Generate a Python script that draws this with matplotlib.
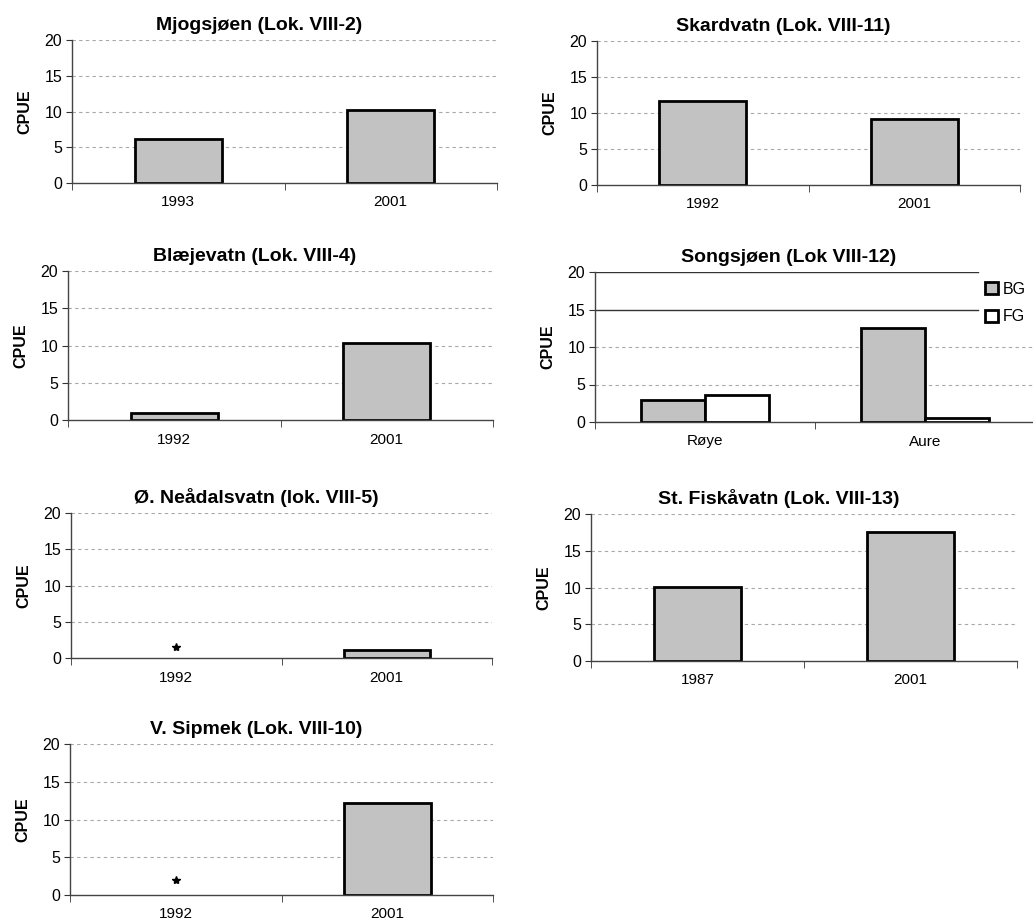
import matplotlib.pyplot as plt
import numpy as np

plt.rcParams['font.family'] = ['Liberation Sans', 'DejaVu Sans']

# data per panel
titles = ['Mjogsjøen (Lok. VIII-2)', 'Skardvatn (Lok. VIII-11)',
          'Blæjevatn (Lok. VIII-4)', 'Songsjøen (Lok VIII-12)',
          'Ø. Neådalsvatn (lok. VIII-5)', 'St. Fiskåvatn (Lok. VIII-13)',
          'V. Sipmek (Lok. VIII-10)']
mjog_years = ['1993', '2001']
mjog_cpue = [6.2, 10.2]
skard_years = ['1992', '2001']
skard_cpue = [11.6, 9.2]
blae_years = ['1992', '2001']
blae_cpue = [1.0, 10.3]
songs_species = ['Røye', 'Aure']
songs_bg = [3.0, 12.6]
songs_fg = [3.6, 0.5]
nea_years = ['1992', '2001']
nea_cpue = [0.0, 1.1]
nea_star = 1.5
fisk_years = ['1987', '2001']
fisk_cpue = [10.1, 17.5]
sip_years = ['1992', '2001']
sip_cpue = [0.0, 12.2]
sip_star = 2.0

W, H = 1033, 924
fig = plt.figure(figsize=(W / 100, H / 100), dpi=100)

def box(l, r, t, b):
    return [l / W, 1 - b / H, (r - l) / W, (b - t) / H]

pos = [box(72, 497, 40, 183), box(597, 1020, 41, 185),
       box(68, 493, 271, 420), box(595, 1035, 272, 422),
       box(71, 492, 513, 658), box(591, 1017, 514, 661),
       box(70, 493, 744, 895)]

bar_col = '#c2c2c2'

def style(ax, title, labels, solid_top=False):
    ax.set_ylim(0, 20)
    ax.set_xlim(-0.5, len(labels) - 0.5)
    ax.set_yticks([0, 5, 10, 15, 20])
    ax.set_xticks(range(len(labels)))
    ax.set_xticklabels(labels)
    ax.set_xticks(np.arange(-0.5, len(labels), 1.0), minor=True)
    ax.tick_params(axis='x', which='major', length=0, pad=9, labelsize=11)
    ax.tick_params(axis='x', which='minor', length=5, direction='out', color='#333')
    ax.tick_params(axis='y', length=4, direction='out', pad=3, labelsize=11.5, color='#333')
    for s in ['top', 'right']:
        ax.spines[s].set_visible(False)
    for s in ['left', 'bottom']:
        ax.spines[s].set_color('#444')
        ax.spines[s].set_linewidth(1.0)
    for yv in [5, 10, 15, 20]:
        if solid_top and yv >= 15:
            ax.axhline(yv, xmax=0.87, color='#333', lw=1.0, zorder=0)
        else:
            ax.axhline(yv, color='#a8a8a8', lw=0.8, ls=(0, (3, 3)), zorder=0)
    ax.set_ylabel('CPUE', fontsize=11.5, fontweight='bold', labelpad=9)
    ax.set_title(title, fontsize=14, fontweight='bold', x=0.44, pad=7)

bw = 0.41
panels = [(mjog_years, mjog_cpue, None), (skard_years, skard_cpue, None),
          (blae_years, blae_cpue, None), None,
          (nea_years, nea_cpue, nea_star), (fisk_years, fisk_cpue, None),
          (sip_years, sip_cpue, sip_star)]

for i, p in enumerate(panels):
    ax = fig.add_axes(pos[i])
    if p is None:
        x = np.arange(len(songs_species))
        w = 0.29
        ax.bar(x - w / 2, songs_bg, w, color=bar_col, edgecolor='black', lw=2, label='BG', zorder=2)
        ax.bar(x + w / 2, songs_fg, w, color='white', edgecolor='black', lw=2, label='FG', zorder=2)
        style(ax, titles[i], songs_species, solid_top=True)
        ax.legend(loc='upper right', bbox_to_anchor=(1.0, 1.0), frameon=False, fontsize=11.5,
                  handlelength=0.8, handleheight=0.8, handletextpad=0.3, labelspacing=0.8,
                  borderaxespad=0.2)
        continue
    labels, vals, star = p
    x = np.arange(len(labels))
    lws = [2 if v > 0 else 0 for v in vals]
    ax.bar(x, vals, bw, color=bar_col, edgecolor='black', lw=lws, zorder=2)
    if star is not None:
        ax.plot([0], [star], marker='*', color='black', ms=6, ls='none', zorder=3)
    style(ax, titles[i], labels)

fig.savefig('out.png', dpi=100)
